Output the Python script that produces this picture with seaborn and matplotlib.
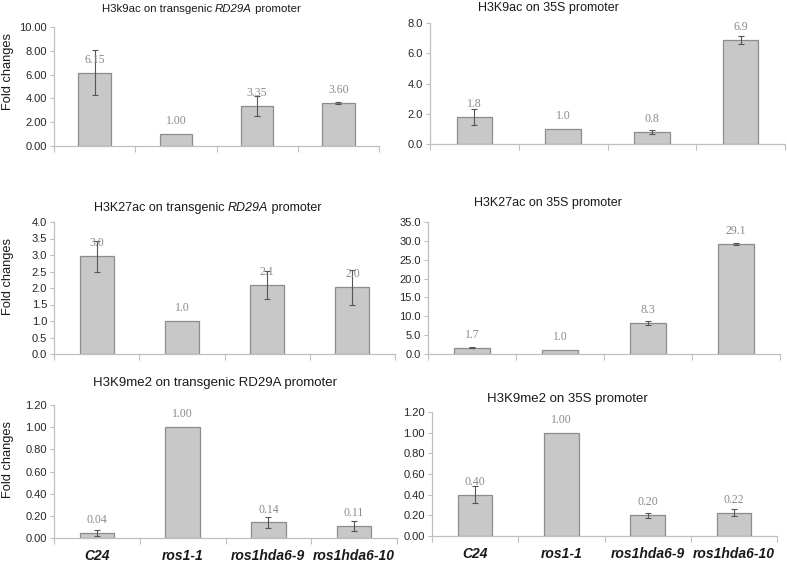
import matplotlib
matplotlib.use("Agg")
import matplotlib.pyplot as plt
import seaborn as sns
import pandas as pd
import numpy as np

categories = ["C24", "ros1-1", "ros1hda6-9", "ros1hda6-10"]

h3k9ac_rd29a = [6.15, 1.00, 3.35, 3.60]
h3k9ac_rd29a_err = [1.90, 0.0, 0.85, 0.10]
h3k9ac_35s = [1.8, 1.0, 0.8, 6.9]
h3k9ac_35s_err = [0.52, 0.0, 0.11, 0.27]
h3k27ac_rd29a = [2.96, 1.0, 2.10, 2.02]
h3k27ac_rd29a_err = [0.47, 0.0, 0.42, 0.53]
h3k27ac_35s = [1.7, 1.0, 8.3, 29.1]
h3k27ac_35s_err = [0.15, 0.0, 0.5, 0.2]
h3k9me2_rd29a = [0.045, 1.00, 0.14, 0.11]
h3k9me2_rd29a_err = [0.023, 0.0, 0.05, 0.045]
h3k9me2_35s = [0.40, 1.00, 0.20, 0.225]
h3k9me2_35s_err = [0.08, 0.0, 0.022, 0.035]

labels_k9ac_rd = ["6.15", "1.00", "3.35", "3.60"]
labels_k9ac_35 = ["1.8", "1.0", "0.8", "6.9"]
labels_k27_rd = ["3.0", "1.0", "2.1", "2.0"]
labels_k27_35 = ["1.7", "1.0", "8.3", "29.1"]
labels_me2_rd = ["0.04", "1.00", "0.14", "0.11"]
labels_me2_35 = ["0.40", "1.00", "0.20", "0.22"]

# title segments: (text, italic?)
titles = [
    [("H3k9ac on transgenic ", False), ("RD29A", True), (" promoter", False)],
    [("H3K9ac on 35S promoter", False)],
    [("H3K27ac on transgenic ", False), ("RD29A", True), (" promoter", False)],
    [("H3K27ac on 35S promoter", False)],
    [("H3K9me2 on transgenic RD29A promoter", False)],
    [("H3K9me2 on 35S promoter", False)],
]
title_sizes = [8.2, 9.0, 9.0, 9.0, 9.5, 9.5]

sns.set_theme(style="white")
plt.rcParams["font.family"] = ["Liberation Sans", "DejaVu Sans"]

W, H = 787, 566
fig = plt.figure(figsize=(W / 100, H / 100), dpi=100)

def rect(l, r, t, b):
    return [l / W, 1 - b / H, (r - l) / W, (b - t) / H]

panels = [
    dict(pos=rect(54, 379, 27, 146), vals=h3k9ac_rd29a, err=h3k9ac_rd29a_err, lab=labels_k9ac_rd,
         ymax=10, step=2, fmt="{:.2f}", title_xy=(201, 9), ylabel=(8, 72)),
    dict(pos=rect(430, 785, 23, 144), vals=h3k9ac_35s, err=h3k9ac_35s_err, lab=labels_k9ac_35,
         ymax=8, step=2, fmt="{:.1f}", title_xy=(548, 8), ylabel=None),
    dict(pos=rect(54, 395, 222, 354), vals=h3k27ac_rd29a, err=h3k27ac_rd29a_err, lab=labels_k27_rd,
         ymax=4, step=0.5, fmt="{:.1f}", title_xy=(208, 208), ylabel=(8, 277)),
    dict(pos=rect(428, 780, 222, 354), vals=h3k27ac_35s, err=h3k27ac_35s_err, lab=labels_k27_35,
         ymax=35, step=5, fmt="{:.1f}", title_xy=(548, 203), ylabel=None),
    dict(pos=rect(54, 397, 405, 538), vals=h3k9me2_rd29a, err=h3k9me2_rd29a_err, lab=labels_me2_rd,
         ymax=1.2, step=0.2, fmt="{:.2f}", title_xy=(215, 383), ylabel=(8, 460)),
    dict(pos=rect(432, 777, 412, 536), vals=h3k9me2_35s, err=h3k9me2_35s_err, lab=labels_me2_35,
         ymax=1.2, step=0.2, fmt="{:.2f}", title_xy=(567, 399), ylabel=None),
]

renderer = fig.canvas.get_renderer()

def segmented_title(segs, cx, cy, size):
    texts = []
    for s, it in segs:
        t = fig.text(0, 1 - cy / H, s, ha="left", va="center", fontsize=size,
                     fontstyle="italic" if it else "normal", color="#1A1A1A")
        texts.append(t)
    widths = [t.get_window_extent(renderer).width for t in texts]
    total = sum(widths)
    x = cx - total / 2
    for t, w in zip(texts, widths):
        t.set_x(x / W)
        x += w

spine_c = "#BFBFBF"
for i, p in enumerate(panels):
    ax = fig.add_axes(p["pos"])
    df = pd.DataFrame({"cat": categories, "val": p["vals"]})
    sns.barplot(data=df, x="cat", y="val", ax=ax, color="#C8C8C8", width=0.4,
                edgecolor="#8C8C8C", linewidth=0.9, errorbar=None, saturation=1)
    for bar in ax.patches:
        bar.set_facecolor("#C8C8C8")
    xs = np.arange(len(categories))
    errs = np.array(p["err"])
    mask = errs > 0
    ax.errorbar(xs[mask], np.array(p["vals"])[mask], yerr=errs[mask], fmt="none",
                ecolor="#555555", elinewidth=0.8, capsize=2.5, capthick=0.8)
    for x, v, t in zip(xs, p["vals"], p["lab"]):
        ax.annotate(t, (x, v), xytext=(0, 5), textcoords="offset points",
                    ha="center", va="bottom", fontsize=8.5, color="#8A8A8A",
                    family=["Liberation Serif", "DejaVu Serif"])
    ax.set_xlim(-0.5, 3.5)
    ax.set_ylim(0, p["ymax"])
    ticks = np.arange(0, p["ymax"] + p["step"] / 2, p["step"])
    ax.set_yticks(ticks)
    ax.set_yticklabels([p["fmt"].format(t) for t in ticks], fontsize=8, color="#262626")
    ax.set_xticks([-0.5, 0.5, 1.5, 2.5, 3.5])
    ax.set_xticklabels([])
    ax.tick_params(axis="x", which="major", length=4, color=spine_c, width=0.8, direction="out", bottom=True)
    ax.tick_params(axis="y", which="major", length=3, color=spine_c, width=0.8, direction="out", left=True, pad=2)
    if i >= 4:
        ax.set_xticks(xs, minor=True)
        ax.set_xticklabels(categories, minor=True, fontsize=10, fontstyle="italic",
                           fontweight="bold", color="#1A1A1A")
        ax.tick_params(axis="x", which="minor", length=0, pad=8)
    ax.set_xlabel("")
    ax.set_ylabel("")
    for s in ["top", "right"]:
        ax.spines[s].set_visible(False)
    for s in ["left", "bottom"]:
        ax.spines[s].set_color(spine_c)
        ax.spines[s].set_linewidth(0.9)
    tx, ty = p["title_xy"]
    segmented_title(titles[i], tx, ty, title_sizes[i])
    if p["ylabel"]:
        lx, ly = p["ylabel"]
        fig.text(lx / W, 1 - ly / H, "Fold changes", rotation=90, ha="center", va="center",
                 fontsize=9.3, color="#1A1A1A")

fig.savefig("out.png", dpi=100)
